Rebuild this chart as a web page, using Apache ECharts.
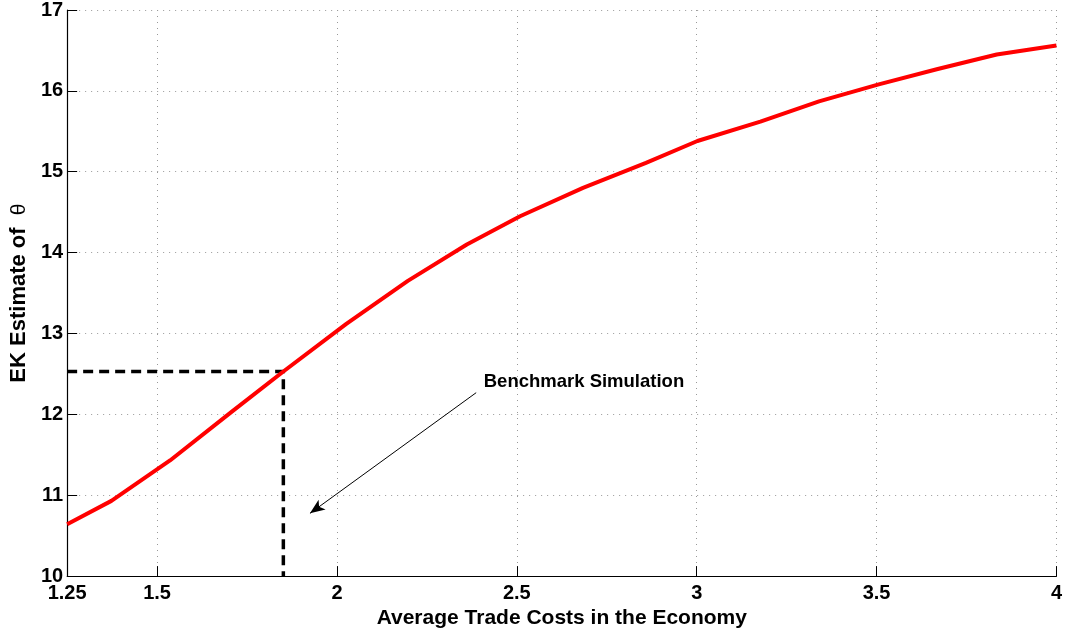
<!DOCTYPE html>
<html>
<head>
<meta charset="utf-8">
<script src="https://cdn.jsdelivr.net/npm/echarts@6/dist/echarts.min.js"></script>
<style>
html,body{margin:0;padding:0;background:#fff;}
#chart{width:1065px;height:634px;}
</style>
</head>
<body>
<div id="chart"></div>
<script>
const tradeCosts = [1.25, 1.373, 1.536, 1.707, 1.851, 2.026, 2.197, 2.361, 2.509, 2.684, 2.859, 3.002, 3.177, 3.340, 3.506, 3.670, 3.834, 4.0];
const thetaEstimates = [10.64, 10.93, 11.43, 12.03, 12.53, 13.12, 13.65, 14.10, 14.45, 14.80, 15.11, 15.38, 15.62, 15.87, 16.08, 16.27, 16.45, 16.56];
const benchmarkX = 1.851;
const benchmarkY = 12.53;
const xTicks = [1.25, 1.5, 2, 2.5, 3, 3.5, 4];
const yTicks = [10, 11, 12, 13, 14, 15, 16, 17];
const annotationText = 'Benchmark Simulation';
const annotationAt = [2.408, 12.40];
const arrowFrom = [2.387, 12.268];
const arrowTo = [1.925, 10.776];

const FONT = '"Liberation Sans", Arial, Helvetica, sans-serif';
const chart = echarts.init(document.getElementById('chart'), null, {renderer: 'canvas'});

const curve = tradeCosts.map((x, i) => [x, thetaEstimates[i]]);
const dashedGuide = [[xTicks[0], benchmarkY], [benchmarkX, benchmarkY], [benchmarkX, yTicks[0]]];

const option = {
  animation: false,
  backgroundColor: '#fff',
  grid: {left: 65, right: 8, top: 10, bottom: 56, containLabel: false},
  xAxis: {
    type: 'value',
    min: xTicks[0],
    max: xTicks[xTicks.length - 1],
    name: 'Average Trade Costs in the Economy',
    nameLocation: 'middle',
    nameGap: 22,
    nameTextStyle: {fontFamily: FONT, fontWeight: 'bold', fontSize: 21, color: '#000'},
    axisLine: {show: true, onZero: false, lineStyle: {color: '#000', width: 1.2}},
    axisTick: {show: true, inside: true, length: 10, customValues: xTicks, lineStyle: {color: '#000', width: 1}},
    axisLabel: {show: true, customValues: xTicks, margin: 7, fontFamily: FONT, fontWeight: 'bold', fontSize: 20, color: '#000',
      formatter: v => String(v)},
    splitLine: {show: true, lineStyle: {color: '#999', width: 1, type: [1, 5]}}
  },
  yAxis: {
    type: 'value',
    min: yTicks[0],
    max: yTicks[yTicks.length - 1],
    interval: 1,
    name: '{b|EK Estimate of  }{t|θ}',
    nameLocation: 'middle',
    nameGap: 35,
    nameRotate: 90,
    nameTextStyle: {
      rich: {
        b: {fontFamily: FONT, fontWeight: 'bold', fontSize: 22, color: '#000'},
        t: {fontFamily: FONT, fontWeight: 'normal', fontSize: 21, color: '#000'}
      }
    },
    axisLine: {show: true, onZero: false, lineStyle: {color: '#000', width: 1.2}},
    axisTick: {show: true, inside: true, length: 10, lineStyle: {color: '#000', width: 1}},
    axisLabel: {show: true, margin: 4, fontFamily: FONT, fontWeight: 'bold', fontSize: 20, color: '#000'},
    splitLine: {show: true, lineStyle: {color: '#999', width: 1, type: [1, 5]}}
  },
  series: [
    {
      type: 'line',
      name: 'benchmark guide',
      data: dashedGuide,
      showSymbol: false,
      symbol: 'none',
      z: 2,
      lineStyle: {color: '#000', width: 3.5, type: [10, 6]},
      silent: true
    },
    {
      type: 'line',
      name: 'EK estimate',
      data: curve,
      showSymbol: false,
      symbol: 'none',
      z: 3,
      lineStyle: {color: '#ff0000', width: 4},
      silent: true,
      markLine: {
        silent: true,
        symbol: ['none', 'arrow'],
        symbolSize: [9, 15],
        lineStyle: {color: '#000', width: 1, type: 'solid'},
        label: {show: false},
        data: [[{coord: arrowFrom}, {coord: arrowTo}]]
      },
      markPoint: {
        silent: true,
        symbol: 'circle',
        symbolSize: 0,
        itemStyle: {color: 'transparent'},
        label: {
          show: true,
          position: [0, 0],
          align: 'left',
          verticalAlign: 'middle',
          formatter: annotationText,
          fontFamily: FONT,
          fontWeight: 'bold',
          fontSize: 18.5,
          color: '#000'
        },
        data: [{coord: annotationAt, value: annotationText}]
      }
    }
  ]
};
chart.setOption(option);
</script>
</body>
</html>
